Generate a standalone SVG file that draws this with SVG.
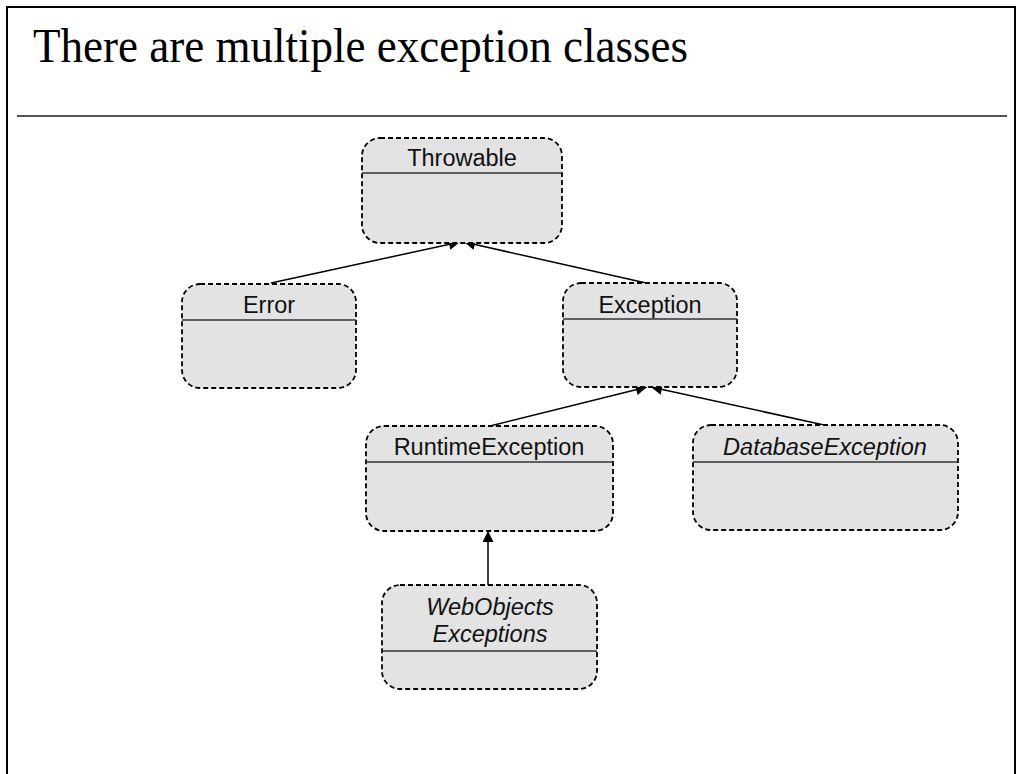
<svg xmlns="http://www.w3.org/2000/svg" width="1021" height="774" viewBox="0 0 1021 774">
<defs>
<style>
.box{fill:#e3e3e3;stroke:#000;stroke-width:1.8;stroke-dasharray:5 3}
.sep{stroke:#333;stroke-width:1.6}
.lbl{font-family:"Liberation Sans",Arial,sans-serif;font-size:23.5px;fill:#111;text-anchor:middle}
.it{font-style:italic}
.edge{stroke:#000;stroke-width:1.5;fill:none;marker-end:url(#ah)}
</style>
<marker id="ah" viewBox="0 0 10 10" refX="10" refY="5" markerWidth="13" markerHeight="11" markerUnits="userSpaceOnUse" orient="auto">
<path d="M0,0 L10,5 L0,10 z" fill="#000"/>
</marker>
</defs>
<rect width="1021" height="774" fill="#fff"/>
<path d="M7,774 V7 H1015 V774" fill="none" stroke="#000" stroke-width="2"/>
<text x="33" y="62" font-family="'Liberation Serif','Times New Roman',serif" font-size="49" textLength="655" lengthAdjust="spacingAndGlyphs" fill="#000">There are multiple exception classes</text>
<line x1="17" y1="116" x2="1007" y2="116" stroke="#555" stroke-width="2"/>

<g id="connectors">
<line class="edge" x1="271" y1="283" x2="460" y2="242"/>
<line class="edge" x1="646" y1="283" x2="464" y2="242"/>
<line class="edge" x1="490" y1="426" x2="647" y2="387"/>
<line class="edge" x1="824" y1="425" x2="651" y2="387"/>
<line class="edge" x1="488" y1="585" x2="488" y2="531"/>
</g>

<g id="throwable">
<rect class="box" x="362" y="138" width="200" height="105" rx="18"/>
<line class="sep" x1="362" y1="173" x2="562" y2="173"/>
<text class="lbl" x="462" y="166">Throwable</text>
</g>
<g id="error">
<rect class="box" x="182" y="284" width="174" height="104" rx="18"/>
<line class="sep" x1="182" y1="320" x2="356" y2="320"/>
<text class="lbl" x="269" y="313">Error</text>
</g>
<g id="exception">
<rect class="box" x="563" y="283" width="174" height="104" rx="18"/>
<line class="sep" x1="563" y1="319" x2="737" y2="319"/>
<text class="lbl" x="650" y="313">Exception</text>
</g>
<g id="runtimeexception">
<rect class="box" x="366" y="426" width="247" height="105" rx="18"/>
<line class="sep" x1="366" y1="462" x2="613" y2="462"/>
<text class="lbl" x="489" y="455">RuntimeException</text>
</g>
<g id="databaseexception">
<rect class="box" x="693" y="425" width="265" height="105" rx="18"/>
<line class="sep" x1="693" y1="462" x2="958" y2="462"/>
<text class="lbl it" x="825" y="455">DatabaseException</text>
</g>
<g id="webobjectsexceptions">
<rect class="box" x="382" y="585" width="215" height="104" rx="18"/>
<line class="sep" x1="382" y1="651" x2="597" y2="651"/>
<text class="lbl it" x="490" y="615">WebObjects</text>
<text class="lbl it" x="490" y="642">Exceptions</text>
</g>
</svg>
